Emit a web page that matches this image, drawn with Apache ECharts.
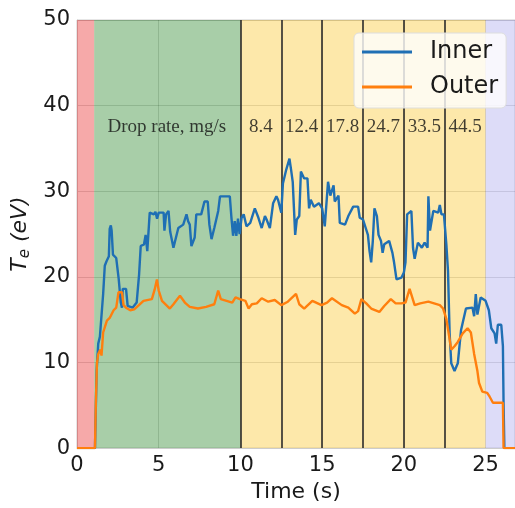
<!DOCTYPE html>
<html>
<head>
<meta charset="utf-8">
<script src="https://cdn.jsdelivr.net/npm/echarts@6/dist/echarts.min.js"></script>
<style>html,body{margin:0;padding:0;background:#fff}#c{width:515px;height:508px}</style>
</head>
<body>
<div id="c"></div>
<script>
// ---- data ----
var xTicks = [0, 5, 10, 15, 20, 25];
var yTicks = [0, 10, 20, 30, 40, 50];
var dropLines = [10, 12.5, 15, 17.5, 20, 22.5];
var phaseBands = [[0, 1.05], [1.05, 10], [10, 25], [25, 26.8]];
var annoX = [5.5, 11.25, 13.75, 16.25, 18.75, 21.25, 23.75];
var annoY = [37.5, 37.5, 37.5, 37.5, 37.5, 37.5, 37.5];
var annoText = ['Drop rate, mg/s', '8.4', '12.4', '17.8', '24.7', '33.5', '44.5'];
var innerT = [[0,0],[1.1,0],[1.2,9],[1.3,12.2],[1.4,13.0],[1.5,13.0],[1.6,18.0],[1.7,21.3],[1.8,21.8],[1.95,22.4],[2.0,25.6],[2.07,26.0],[2.12,25.4],[2.2,22.6],[2.4,22.2],[2.55,19.8],[2.68,17.0],[2.75,16.4],[2.8,18.6],[3.0,18.6],[3.1,16.6],[3.4,16.4],[3.65,17.0],[3.8,20.3],[3.9,23.6],[4.1,23.8],[4.2,24.9],[4.3,23.0],[4.45,27.5],[4.7,27.3],[4.8,27.6],[4.9,26.8],[5.0,27.5],[5.3,27.5],[5.35,25.4],[5.45,27.3],[5.6,27.7],[5.7,25.3],[5.9,23.4],[6.0,23.5],[6.2,25.7],[6.5,26.1],[6.7,27.3],[6.8,26.5],[6.9,26.1],[7.0,23.6],[7.2,24.6],[7.3,27.3],[7.6,27.3],[7.8,28.8],[8.0,28.8],[8.1,26.1],[8.23,24.4],[8.4,25.7],[8.64,27.7],[8.75,29.4],[9.35,29.4],[9.45,26.9],[9.55,24.8],[9.65,26.5],[9.75,24.8],[9.85,26.8],[9.95,25.0],[10.07,26.9],[10.2,27.3],[10.37,25.9],[10.6,26.3],[10.88,28.0],[11.1,26.9],[11.3,25.7],[11.5,27.1],[11.6,26.7],[11.8,25.7],[12.0,28.6],[12.2,29.4],[12.3,29.0],[12.5,27.5],[12.6,30.9],[12.8,32.5],[13.0,33.8],[13.1,32.5],[13.2,31.1],[13.35,24.9],[13.45,26.7],[13.6,27.1],[13.7,32.3],[13.9,31.5],[14.1,31.5],[14.2,28.0],[14.3,29.0],[14.5,28.2],[14.8,28.6],[15.0,28.0],[15.16,25.9],[15.36,31.1],[15.5,29.5],[15.7,30.7],[15.77,28.8],[16.0,29.5],[16.08,26.3],[16.4,26.1],[16.5,25.9],[16.6,27.1],[16.9,28.2],[17.2,28.2],[17.3,26.9],[17.5,26.7],[17.8,24.9],[17.9,23.0],[18.0,21.7],[18.1,24.2],[18.2,28.0],[18.35,27.1],[18.45,24.9],[18.6,24.2],[18.7,22.8],[18.8,23.8],[19.1,24.2],[19.3,22.8],[19.4,21.7],[19.55,19.7],[19.85,19.9],[20.0,20.5],[20.1,21.7],[20.2,27.3],[20.46,27.7],[20.56,23.4],[20.66,22.1],[20.86,24.0],[21.1,23.4],[21.27,24.0],[21.45,23.4],[21.5,29.4],[21.6,25.4],[21.8,27.7],[22.1,27.5],[22.2,28.4],[22.3,27.3],[22.45,27.3],[22.6,23.8],[22.7,20.7],[22.8,13.4],[22.9,9.9],[23.1,9.0],[23.3,9.9],[23.5,13.8],[23.8,16.3],[24.2,16.4],[24.3,15.4],[24.4,18.0],[24.5,15.6],[24.7,17.6],[25.0,17.2],[25.2,16.1],[25.35,14.0],[25.55,13.4],[25.65,12.2],[25.75,14.4],[25.96,14.4],[26.06,11.9],[26.1,5.3],[26.15,0],[26.8,0]];
var outerT = [[0,0],[1.1,0],[1.15,5],[1.22,9.9],[1.3,11.0],[1.43,11.5],[1.5,10.8],[1.6,13.5],[1.83,14.9],[2.0,15.2],[2.24,16.1],[2.4,16.4],[2.54,18.2],[2.75,18.2],[2.85,16.7],[3.0,16.4],[3.26,16.1],[3.5,16.2],[3.67,16.5],[4.07,17.2],[4.58,17.4],[4.75,18.5],[4.89,19.7],[5.0,18.4],[5.2,17.2],[5.68,16.3],[5.9,16.8],[6.3,17.8],[6.6,17.0],[6.9,16.5],[7.4,16.3],[7.9,16.5],[8.4,16.8],[8.64,18.4],[8.8,17.4],[9.15,17.2],[9.5,17.0],[9.7,17.6],[9.96,17.4],[10.3,17.2],[10.5,16.3],[10.7,16.8],[11.0,16.9],[11.3,17.5],[11.7,17.1],[12.1,17.3],[12.5,16.7],[12.9,17.1],[13.4,18.0],[13.6,16.8],[13.9,16.3],[14.4,17.2],[14.96,16.7],[15.3,17.0],[15.6,17.5],[16.2,16.7],[16.6,16.4],[17.0,15.7],[17.2,16.0],[17.4,17.4],[17.7,16.9],[18.0,16.3],[18.5,15.9],[18.8,16.6],[19.2,17.4],[19.5,16.9],[19.85,16.9],[20.1,17.0],[20.35,18.6],[20.66,16.7],[21.0,16.9],[21.5,17.1],[22.2,16.7],[22.4,16.3],[22.6,15.1],[22.9,11.5],[23.1,11.9],[23.3,12.4],[23.6,13.4],[23.9,14.0],[24.1,13.5],[24.3,11.0],[24.5,9.0],[24.6,7.6],[24.8,6.6],[25.1,6.45],[25.25,6.0],[25.45,5.3],[26.06,5.3],[26.1,0],[26.8,0]];

// ---- styles ----
var bandColors = ['rgba(229,9,9,0.35)', 'rgba(6,115,6,0.35)', 'rgba(249,189,12,0.35)', 'rgba(158,155,235,0.35)'];
var chart = echarts.init(document.getElementById('c'), null, {renderer: 'canvas'});
var font = 'DejaVu Sans';

var bandData = phaseBands.map(function (b, i) {
  return [{xAxis: b[0], itemStyle: {color: bandColors[i], opacity: 1}}, {xAxis: b[1]}];
});
var lineData = dropLines.map(function (x) { return {xAxis: x}; });
var annoData = annoX.map(function (x, i) { return [x, annoY[i], annoText[i]]; });

chart.setOption({
  animation: false,
  grid: {left: 77, top: 20, right: 0, bottom: 56, show: true, borderColor: '#cccccc', borderWidth: 1},
  legend: {
    data: ['Inner', 'Outer'],
    orient: 'vertical',
    left: 354, top: 33,
    padding: [7, 8, 9, 8],
    itemGap: 11,
    itemWidth: 50, itemHeight: 3,
    icon: 'rect',
    backgroundColor: 'rgba(255,255,255,0.8)',
    borderColor: '#dddddd', borderWidth: 1, borderRadius: 5,
    textStyle: {fontFamily: font, fontSize: 24, color: '#1a1a1a', padding: [0, 0, 0, 13]}
  },
  xAxis: {
    type: 'value', min: 0, max: 26.8, interval: 5,
    name: 'Time (s)', nameLocation: 'middle', nameGap: 26,
    nameTextStyle: {fontFamily: font, fontSize: 22, color: '#1a1a1a'},
    axisLine: {show: true, lineStyle: {color: '#cccccc'}},
    axisTick: {show: false},
    axisLabel: {fontFamily: font, fontSize: 21, color: '#1a1a1a', margin: 7, showMaxLabel: false,
      formatter: function (v) { return xTicks.indexOf(v) >= 0 ? String(v) : ''; }},
    splitLine: {show: true, lineStyle: {color: 'rgba(0,0,0,0.15)', width: 1}}
  },
  yAxis: {
    type: 'value', min: 0, max: 50, interval: 10,
    name: '{t|T}{s|e}{n| (eV)}', nameLocation: 'middle', nameGap: 42,
    nameTextStyle: {
      rich: {
        t: {fontFamily: font, fontSize: 22, fontStyle: 'italic', color: '#1a1a1a'},
        s: {fontFamily: font, fontSize: 15, fontStyle: 'italic', color: '#1a1a1a', verticalAlign: 'bottom', padding: [10, 0, 0, 0]},
        n: {fontFamily: font, fontSize: 22, fontStyle: 'italic', color: '#1a1a1a'}
      }
    },
    axisLine: {show: true, lineStyle: {color: '#cccccc'}},
    axisTick: {show: false},
    axisLabel: {fontFamily: font, fontSize: 21, color: '#1a1a1a', margin: 7,
      formatter: function (v) { return yTicks.indexOf(v) >= 0 ? String(v) : ''; }},
    splitLine: {show: true, lineStyle: {color: 'rgba(0,0,0,0.15)', width: 1}}
  },
  series: [
    {
      name: 'Inner', type: 'line', data: innerT, showSymbol: false, symbol: 'none',
      lineStyle: {color: '#1f6fb4', width: 2.4}, itemStyle: {color: '#1f6fb4'}, z: 3,
      markArea: {silent: true, z: 1, data: bandData},
      markLine: {silent: true, symbol: 'none', z: 2, label: {show: false},
        lineStyle: {color: '#2b2b2b', width: 1.6, type: 'solid'}, data: lineData}
    },
    {
      name: 'Outer', type: 'line', data: outerT, showSymbol: false, symbol: 'none',
      lineStyle: {color: '#ff7f0e', width: 2.4}, itemStyle: {color: '#ff7f0e'}, z: 4
    },
    {
      name: 'annotations', type: 'scatter', data: annoData, symbolSize: 0, z: 5, silent: true,
      label: {show: true, position: 'inside', formatter: function (p) { return p.data[2]; },
        fontFamily: 'Liberation Serif', fontSize: 19, color: '#111111'}
    }
  ]
});
</script>
</body>
</html>
